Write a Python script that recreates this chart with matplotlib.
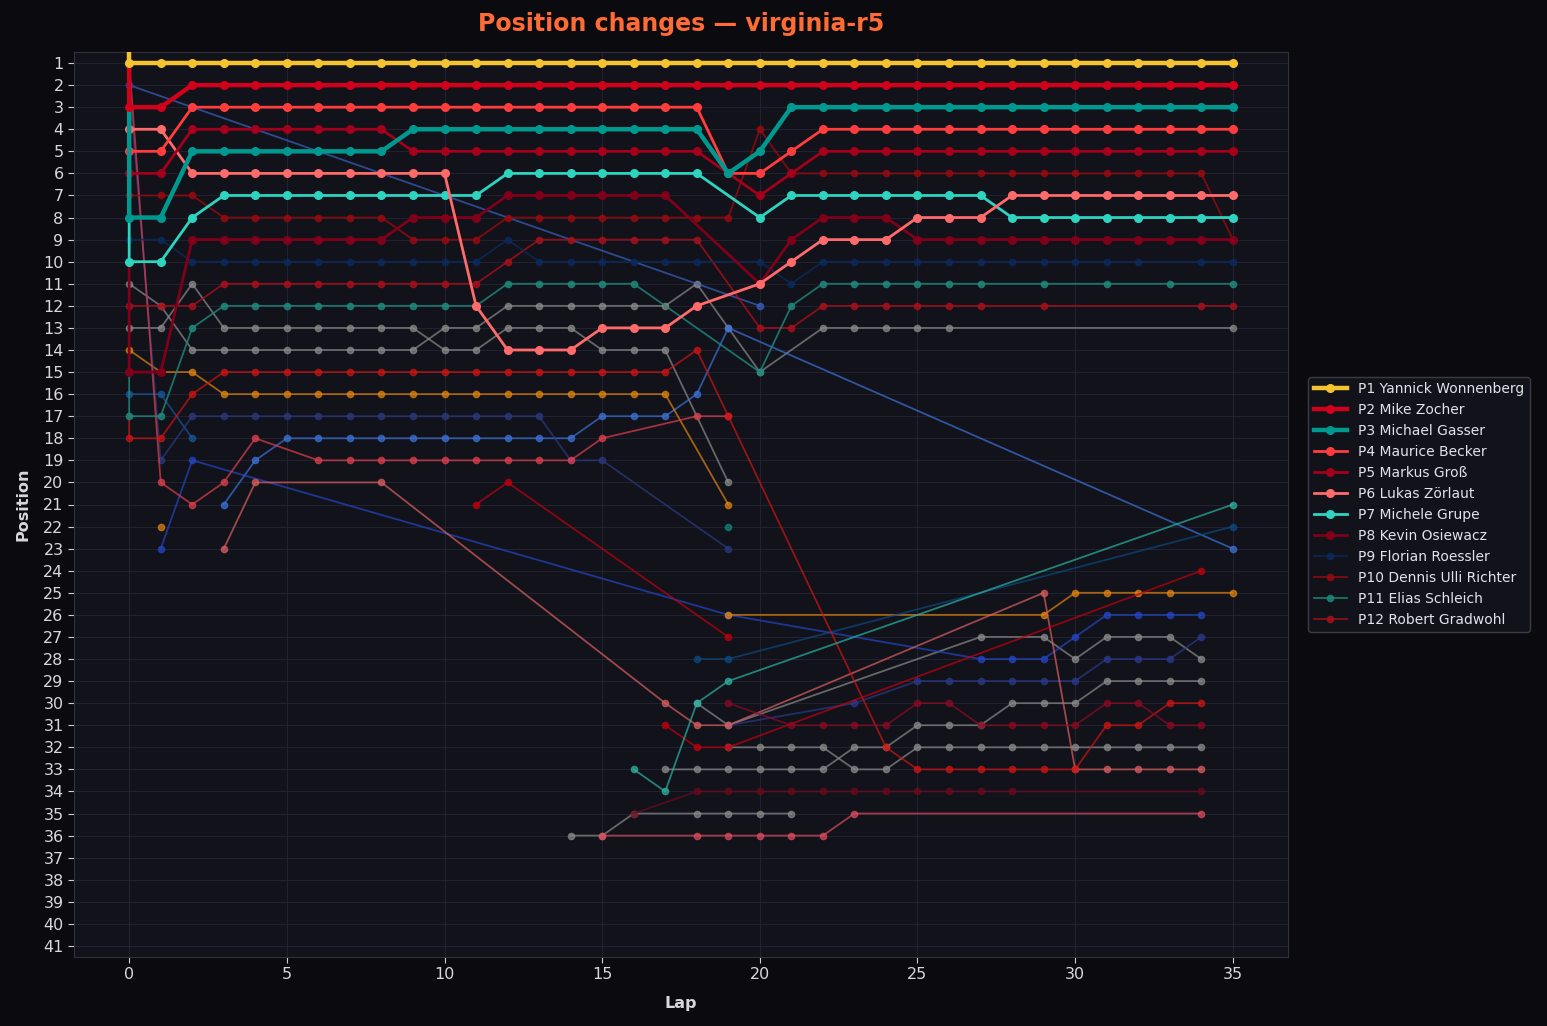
import math
import matplotlib
matplotlib.use("Agg")
import matplotlib.pyplot as plt

LAPS = list(range(36))
N = None

# ---- legend drivers (full lap-by-lap positions, None = no data) ----
names = ["P1 Yannick Wonnenberg", "P2 Mike Zocher", "P3 Michael Gasser",
         "P4 Maurice Becker", "P5 Markus Groß", "P6 Lukas Zörlaut",
         "P7 Michele Grupe", "P8 Kevin Osiewacz", "P9 Florian Roessler",
         "P10 Dennis Ulli Richter", "P11 Elias Schleich", "P12 Robert Gradwohl"]

# start marker at lap 0 before the first lap-0 reading (None = none)
start_pos = [0, 1, 3, N, N, N, 8, 10, N, N, 15, N]

p1 = [1] * 36
p2 = [3, 3] + [2] * 34
p3 = [8, 8] + [5] * 7 + [4] * 10 + [6, 5] + [3] * 15
p4 = [5, 5] + [3] * 17 + [6, 6, 5] + [4] * 14
p5 = [6, 6] + [4] * 7 + [5] * 10 + [6, 7, 6] + [5] * 14
p6 = [4, 4] + [6] * 9 + [12, 14, 14, 14, 13, 13, 13, 12, N, 11, 10, 9, 9, 9, 8, 8, 8] + [7] * 8
p7 = [10, 10, 8] + [7] * 9 + [6] * 7 + [N, 8] + [7] * 7 + [8] * 8
p8 = [15, 15] + [9] * 7 + [8] * 3 + [7] * 6 + [N, N, 11, 9, 8, 8, 8] + [9] * 11
p9 = [9, 9] + [10] * 10 + [9] + [10] * 6 + [N, 10, 11] + [10] * 11 + [N, 10, 10]
p10 = [7, 7, 7] + [8] * 6 + [9] * 3 + [8] * 8 + [4] + [6] * 14 + [9]
p11 = [17, 17, 13] + [12] * 9 + [11] * 5 + [N, N, N, 15, 12] + [11, 11, 11, 11, 11, 11, N, 11, N, 11, N, 11, N, 11]
p12 = [12, 12, 12] + [11] * 9 + [10] + [9] * 6 + [N, 13, 13] + [12, 12, 12, 12, 12, 12, N, 12, N, N, N, N, 12, 12]

main_pos = [p1, p2, p3, p4, p5, p6, p7, p8, p9, p10, p11, p12]
main_colors = ["#f4c430", "#d0021b", "#00998f", "#ff3d3d", "#a3001b", "#ff6b6b",
               "#2dd4bf", "#80001a", "#0b2a5c", "#9a0a0e", "#1f8a7d", "#a8101a"]
main_lw = [3.2, 3.2, 3.2, 2.0, 2.0, 2.0, 2.0, 2.0, 1.3, 1.3, 1.3, 1.3]
main_alpha = [1, 1, 1, 1, 1, 1, 1, 1, 0.8, 0.8, 0.8, 0.8]

# ---- other drivers (sparse: laps, positions) ----
ga_laps = [0, 1, 2, 3, 4, 5, 6, 7, 8, 9, 10, 11, 12, 13, 14, 15, 16, 17, 18, 19, 20, 22, 23, 24, 25, 26, 35]
ga_pos = [11, 12, 14, 14, 14, 14, 14, 14, 14, 14, 13, 13, 12, 12, 12, 12, 12, 12, 11, 13, 15, 13, 13, 13, 13, 13, 13]
gb_laps = [0, 1, 2, 3, 4, 5, 6, 7, 8, 9, 10, 11, 12, 13, 14, 15, 16, 17, 19]
gb_pos = [13, 13, 11, 13, 13, 13, 13, 13, 13, 13, 14, 14, 13, 13, 13, 14, 14, 14, 20]
gc_laps = [14, 15, 16, 18, 19, 20, 21]
gc_pos = [36, 36, 35, 35, 35, 35, 35]
gd_laps = [18, 19, 27, 29, 30, 31, 32, 33, 34]
gd_pos = [30, 31, 27, 27, 28, 27, 27, 27, 28]
ge_laps = [17, 18, 19, 20, 21, 22, 23, 24, 25, 26, 27, 28, 29, 30, 31, 32, 33, 34]
ge_pos = [33, 33, 33, 33, 33, 33, 32, 32, 31, 31, 31, 30, 30, 30, 29, 29, 29, 29]
gf_laps = [19, 20, 21, 22, 23, 24, 25, 26, 27, 28, 29, 30, 31, 32, 33, 34]
gf_pos = [32, 32, 32, 32, 33, 33, 32, 32, 32, 32, 32, 32, 32, 32, 32, 32]
bl_laps = [3, 4, 5, 6, 7, 8, 9, 10, 11, 12, 13, 14, 15, 16, 17, 18, 19, 35]
bl_pos = [21, 19, 18, 18, 18, 18, 18, 18, 18, 18, 18, 18, 17, 17, 17, 16, 13, 23]
ba_laps = [0, 20]
ba_pos = [2, 12]
bb_laps = [1, 2, 19, 27, 28, 29, 30, 31, 32, 33, 34]
bb_pos = [23, 19, 26, 28, 28, 28, 27, 26, 26, 26, 26]
o1_laps = [0, 1, 2, 3, 4, 5, 6, 7, 8, 9, 10, 11, 12, 13, 14, 15, 16, 17, 19]
o1_pos = [14, 15, 15, 16, 16, 16, 16, 16, 16, 16, 16, 16, 16, 16, 16, 16, 16, 16, 21]
o2_laps = [19, 29, 30, 31, 32, 33, 35]
o2_pos = [26, 26, 25, 25, 25, 25, 25]
o3_laps = [1]
o3_pos = [22]
sb_laps = [0, 1, 2]
sb_pos = [16, 16, 18]
n2_laps = [0, 1, 2, 3, 4, 5, 6, 7, 8, 9, 10, 11, 12, 13, 14, 15, 19]
n2_pos = [2, 19, 17, 17, 17, 17, 17, 17, 17, 17, 17, 17, 17, 17, 19, 19, 23]
n3_laps = [19, 23, 25, 26, 27, 28, 29, 30, 31, 32, 33, 34]
n3_pos = [31, 30, 29, 29, 29, 29, 29, 29, 28, 28, 28, 27]
db_laps = [18, 19, 35]
db_pos = [28, 28, 22]
s1_laps = [3, 4, 8, 17, 18, 19, 29, 30, 31, 32, 33, 34]
s1_pos = [23, 20, 20, 30, 31, 31, 25, 33, 33, 33, 33, 33]
s2_laps = [0, 1, 2, 3, 4, 6, 7, 8, 9, 10, 11, 12, 13, 14, 15, 18, 19]
s2_pos = [1, 20, 21, 20, 18, 19, 19, 19, 19, 19, 19, 19, 19, 19, 18, 17, 17]
r1_laps = [11, 12, 19]
r1_pos = [21, 20, 27]
r2_laps = [0, 0, 1, 2, 3, 4, 5, 6, 7, 8, 9, 10, 11, 12, 13, 14, 15, 16, 17, 18, 19, 24, 25, 26, 27, 28, 29, 30, 31, 32, 33, 34]
r2_pos = [17, 18, 18, 16, 15, 15, 15, 15, 15, 15, 15, 15, 15, 15, 15, 15, 15, 15, 15, 14, 17, 32, 33, 33, 33, 33, 33, 33, 31, 31, 30, 30]
r3_laps = [17, 18, 19, 34]
r3_pos = [31, 32, 32, 24]
dr_laps = [19, 21, 22, 23, 24, 25, 26, 27, 28, 29, 30, 31, 32, 33, 34]
dr_pos = [30, 31, 31, 31, 31, 30, 30, 31, 31, 31, 31, 30, 30, 31, 31]
m34_laps = [16, 18, 19, 20, 21, 22, 23, 24, 25, 26, 27, 28, 34]
m34_pos = [35, 34, 34, 34, 34, 34, 34, 34, 34, 34, 34, 34, 34]
sr_laps = [15, 18, 19, 20, 21, 22, 23, 34]
sr_pos = [36, 36, 36, 36, 36, 36, 35, 35]
t2_laps = [16, 17, 18, 19, 35]
t2_pos = [33, 34, 30, 29, 21]
t3_laps = [19]
t3_pos = [22]

others = [
    (ga_laps, ga_pos, "#8c8c8c"), (gb_laps, gb_pos, "#8c8c8c"),
    (gc_laps, gc_pos, "#8c8c8c"), (gd_laps, gd_pos, "#8c8c8c"),
    (ge_laps, ge_pos, "#8c8c8c"), (gf_laps, gf_pos, "#8c8c8c"),
    (bl_laps, bl_pos, "#3d72d9"), (ba_laps, ba_pos, "#3a62c4"),
    (bb_laps, bb_pos, "#2347c8"), (o1_laps, o1_pos, "#e2850f"),
    (o2_laps, o2_pos, "#e2850f"), (o3_laps, o3_pos, "#e2850f"),
    (sb_laps, sb_pos, "#16599a"), (n2_laps, n2_pos, "#2b3a82"),
    (n3_laps, n3_pos, "#2b3a8c"), (db_laps, db_pos, "#0b4a82"),
    (s1_laps, s1_pos, "#dc5f5f"), (s2_laps, s2_pos, "#e0404e"),
    (r1_laps, r1_pos, "#c4000f"), (r2_laps, r2_pos, "#d01414"),
    (r3_laps, r3_pos, "#c4000f"), (dr_laps, dr_pos, "#8e0a22"),
    (m34_laps, m34_pos, "#6e0a1c"), (sr_laps, sr_pos, "#e04c5c"),
    (t2_laps, t2_pos, "#2ab5a3"), (t3_laps, t3_pos, "#0e8a80"),
]

FIG_BG = "#0b0b0f"
AX_BG = "#11121a"
TXT = "#d8d8dc"

fig = plt.figure(figsize=(15.47, 10.26), dpi=100, facecolor=FIG_BG)
ax = fig.add_axes([74 / 1547, 1 - 957 / 1026, (1288 - 74) / 1547, (957 - 52) / 1026])
ax.set_facecolor(AX_BG)

for laps, pos, col in others:
    ax.plot(laps, pos, color=col, lw=1.3, alpha=0.7, marker="o", ms=4.5,
            markevery=[i for i in range(len(laps)) if not (i == 0 and len(laps) > 1 and laps[0] == laps[1])],
            zorder=2)

order = list(range(12))[::-1]
handles = [None] * 12
for i in order:
    pos = main_pos[i]
    xs = [l for l, p in zip(LAPS, pos) if p is not None]
    ys = [p for p in pos if p is not None]
    mk = list(range(len(xs)))
    if start_pos[i] is not None:
        xs = [0] + xs
        ys = [start_pos[i]] + ys
        mk = [m + 1 for m in mk]
    ms = 5.5 if main_lw[i] >= 2 else 4.5
    ln, = ax.plot(xs, ys, color=main_colors[i], lw=main_lw[i], alpha=main_alpha[i],
                  marker="o", ms=ms, markevery=mk, zorder=3 + (12 - i) * 0.1,
                  label=names[i])
    handles[i] = ln

ax.set_xlim(-1.75, 36.75)
ax.set_ylim(41.5, 0.5)
ax.set_yticks(range(1, 42))
ax.set_xticks(range(0, 36, 5))
ax.grid(True, color="#262733", lw=0.8, alpha=0.8)
ax.set_axisbelow(True)
for s in ax.spines.values():
    s.set_color("#30313c")
ax.tick_params(colors="#cfcfd4", labelsize=11.5, length=4, width=0.8)
for lab in ax.get_xticklabels() + ax.get_yticklabels():
    lab.set_color(TXT)

ax.set_xlabel("Lap", color=TXT, fontsize=11.5, fontweight="bold", labelpad=10)
ax.set_ylabel("Position", color=TXT, fontsize=11.5, fontweight="bold", labelpad=9)
ax.set_title("Position changes — virginia-r5", color="#ff6b35", fontsize=17,
             fontweight="bold", pad=15)

leg = ax.legend(handles=handles, loc="center left", bbox_to_anchor=(1 + 20 / 1214, 0.5),
                borderaxespad=0, fontsize=10, facecolor=AX_BG, edgecolor="#3a3b46",
                framealpha=1, labelcolor="#e2e2e6", handlelength=2.4)

fig.savefig("out.png", dpi=100, facecolor=FIG_BG)
